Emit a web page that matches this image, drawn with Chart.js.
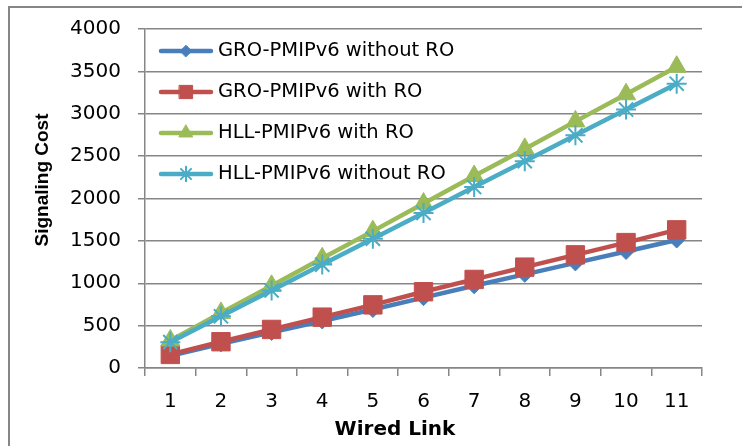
<!DOCTYPE html>
<html>
<head>
<meta charset="utf-8">
<script src="https://cdn.jsdelivr.net/npm/chart.js@4/dist/chart.umd.min.js"></script>
<style>
  body { margin: 0; background: #fff; }
  #chart { display: block; }
</style>
</head>
<body>
<canvas id="chart" width="742" height="446"></canvas>
<script>
const wiredLinks = ['1', '2', '3', '4', '5', '6', '7', '8', '9', '10', '11'];
const groWithoutRO = [145, 285, 420, 555, 690, 830, 970, 1105, 1240, 1375, 1510];
const groWithRO = [160, 310, 455, 600, 745, 900, 1045, 1190, 1335, 1480, 1630];
const hllWithRO = [325, 650, 970, 1295, 1615, 1940, 2265, 2585, 2910, 3230, 3555];
const hllWithoutRO = [305, 610, 915, 1220, 1525, 1830, 2135, 2440, 2745, 3050, 3355];
const seriesNames = ['GRO-PMIPv6 without RO', 'GRO-PMIPv6 with RO', 'HLL-PMIPv6 with RO', 'HLL-PMIPv6 without RO'];
const yTitle = 'Signaling Cost';
const xTitle = 'Wired Link';

const gridColor = '#868686';

function series(label, data, color, style, radius, order) {
    return {
        label: label,
        data: data,
        borderColor: color,
        backgroundColor: color,
        borderWidth: 4.5,
        pointStyle: style,
        pointRadius: radius,
        pointBorderWidth: style === 'star' ? 2 : 1,
        pointBackgroundColor: color,
        pointBorderColor: color,
        tension: 0,
        order: order
    };
}

// legend + axis titles drawn by hand, Excel style
const decorations = {
    id: 'decorations',
    beforeDraw(chart) {
        const ctx = chart.ctx;
        ctx.save();
        ctx.strokeStyle = gridColor;
        ctx.lineWidth = 2;
        ctx.strokeRect(9, 7, 760, 460);
        ctx.restore();
    },
    afterDatasetsDraw(chart) {
        const ctx = chart.ctx;
        ctx.save();
        chart.data.datasets.forEach((ds, i) => {
            const y = 51 + i * 41;
            ctx.strokeStyle = ds.borderColor;
            ctx.lineWidth = 4.5;
            ctx.lineCap = 'round';
            ctx.beginPath();
            ctx.moveTo(161, y);
            ctx.lineTo(211, y);
            ctx.stroke();
            ctx.fillStyle = ds.borderColor;
            ctx.lineWidth = ds.pointBorderWidth;
            Chart.helpers.drawPoint(ctx, {
                pointStyle: ds.pointStyle,
                radius: ds.pointRadius * 0.72,
                rotation: 0,
                borderWidth: ds.pointBorderWidth
            }, 186, y);
            ctx.fillStyle = '#000';
            ctx.font = '19.5px "DejaVu Sans"';
            ctx.textBaseline = 'middle';
            ctx.textAlign = 'left';
            ctx.fillText(ds.label, 218, y);
        });

        ctx.fillStyle = '#000';
        ctx.font = 'bold 20px "DejaVu Sans"';
        ctx.textAlign = 'center';
        ctx.textBaseline = 'middle';
        ctx.fillText(xTitle, 395, 430);

        ctx.translate(43, 180);
        ctx.rotate(-Math.PI / 2);
        ctx.font = 'bold 19px "Liberation Sans"';
        ctx.fillText(yTitle, 0, 0);
        ctx.restore();
    }
};

new Chart(document.getElementById('chart'), {
    type: 'line',
    data: {
        labels: wiredLinks,
        datasets: [
            series(seriesNames[0], groWithoutRO, '#4A7EBB', 'rectRot', 8, 4),
            series(seriesNames[1], groWithRO, '#C0504D', 'rect', 13, 3),
            series(seriesNames[2], hllWithRO, '#9BBB59', 'triangle', 11, 2),
            series(seriesNames[3], hllWithoutRO, '#4BACC6', 'star', 10, 1)
        ]
    },
    options: {
        responsive: false,
        animation: false,
        layout: { padding: { top: 29, right: 40, bottom: 0, left: 0 } },
        plugins: {
            legend: { display: false },
            tooltip: { enabled: false }
        },
        scales: {
            x: {
                offset: true,
                afterFit: s => { s.height = 78; },
                grid: {
                    offset: true,
                    drawOnChartArea: false,
                    drawTicks: true,
                    tickLength: 8,
                    color: gridColor,
                    lineWidth: 1.5
                },
                border: { color: gridColor, width: 1.5 },
                ticks: {
                    font: { family: 'DejaVu Sans', size: 20 },
                    color: '#000',
                    padding: 14,
                    maxRotation: 0
                }
            },
            y: {
                min: 0,
                max: 4000,
                afterFit: s => { s.width = 145; },
                grid: {
                    color: gridColor,
                    lineWidth: 1.5,
                    tickLength: 7
                },
                border: { color: gridColor, width: 1.5 },
                ticks: {
                    stepSize: 500,
                    callback: v => String(v),
                    font: { family: 'DejaVu Sans', size: 20 },
                    color: '#000',
                    padding: 17
                }
            }
        }
    },
    plugins: [decorations]
});
</script>
</body>
</html>
